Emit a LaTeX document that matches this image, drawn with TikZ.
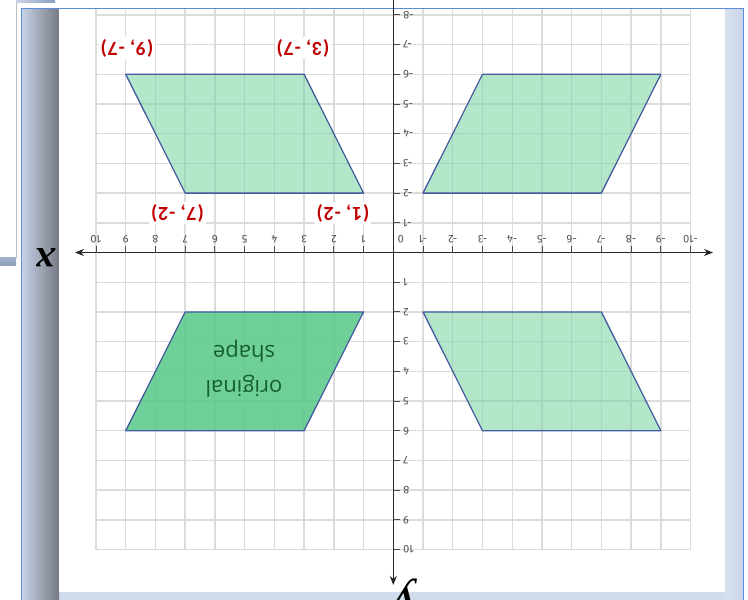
\documentclass[tikz,border=0pt]{standalone}
\usepackage{fontspec}
\setmainfont{Liberation Serif}
\newfontfamily\lblfont[LetterSpace=4]{Carlito}
\newfontfamily\shapefont{Open Sans}
\newfontfamily\tickfont{Fira Sans}
\usetikzlibrary{arrows.meta}
\definecolor{gridgray}{RGB}{220,220,220}
\definecolor{edgeblue}{RGB}{68,92,160}
\definecolor{lightgreen}{RGB}{120,210,160}
\definecolor{darkgreen}{RGB}{85,200,135}
\definecolor{labelred}{RGB}{192,0,0}
\definecolor{frameblue}{RGB}{90,140,215}
\definecolor{stripblue}{RGB}{200,212,232}
\definecolor{stripgray}{RGB}{118,122,132}
\definecolor{barblue}{RGB}{140,158,190}
\definecolor{textgreen}{RGB}{22,95,48}
\definecolor{tickgray}{RGB}{80,80,80}
\newcommand\gx[1]{393.3-29.73*(#1)}
\newcommand\gy[1]{252.5+29.7*(#1)}
\tikzset{
  gridline/.style={draw=gridgray, line width=1.4pt},
  axisline/.style={draw=black!85, line width=1.4pt},
  tickmark/.style={draw=black!70, line width=0.9pt},
  ticklabel/.style={font=\tickfont\fontsize{11}{11}\selectfont, text=tickgray, rotate=180, inner sep=0pt},
  imgshape/.style={draw=edgeblue, line width=1.3pt, line join=round, fill=lightgreen, fill opacity=0.55},
  origshape/.style={draw=edgeblue, line width=1.3pt, line join=round, fill=darkgreen, fill opacity=0.85},
  ptlabel/.style={font=\lblfont\bfseries\fontsize{20}{20}\selectfont, text=labelred, rotate=180, fill=white, inner sep=2pt},
  axislabel/.style={font=\bfseries\itshape\fontsize{40}{40}\selectfont, text=black, rotate=180, inner sep=0pt},
}
\begin{document}
\begin{tikzpicture}[x=1pt,y=-1pt]
\useasboundingbox (0,0) rectangle (748,600);
\clip (0,0) rectangle (748,600);
\fill[white] (0,0) rectangle (748,600);
% outer window pieces
\draw[black!25, line width=0.8pt] (16,0) -- (16,258);
\shade[top color=barblue!80, bottom color=barblue] (0,257) rectangle (16,265);
\shade[left color=stripblue, right color=barblue] (16,0) rectangle (55,2.8);
% panel frame
\fill[stripblue!85] (21,8.7) rectangle (743,605);
\shade[left color=stripblue, right color=stripgray] (21,8.7) rectangle (59,605);
\shade[left color=stripblue!70, right color=stripblue] (725,8.7) rectangle (743,605);
\draw[frameblue, line width=1pt] (21,605) -- (21,8.7) -- (743,8.7) -- (743,605);
\fill[white] (59,9.3) rectangle (725,592);
% grid
\foreach \i in {-10,...,10} \draw[gridline] ({\gx{\i}},9.3) -- ({\gx{\i}},{\gy{10}});
\foreach \j in {-8,...,10} \draw[gridline] ({\gx{10}},{\gy{\j}}) -- ({\gx{-10}},{\gy{\j}});
% shapes
\coordinate (a1) at ({\gx{9}},{\gy{-6}});
\coordinate (a2) at ({\gx{3}},{\gy{-6}});
\coordinate (a3) at ({\gx{1}},{\gy{-2}});
\coordinate (a4) at ({\gx{7}},{\gy{-2}});
\coordinate (b1) at ({\gx{-3}},{\gy{-6}});
\coordinate (b2) at ({\gx{-9}},{\gy{-6}});
\coordinate (b3) at ({\gx{-7}},{\gy{-2}});
\coordinate (b4) at ({\gx{-1}},{\gy{-2}});
\coordinate (c1) at ({\gx{-1}},{\gy{2}});
\coordinate (c2) at ({\gx{-7}},{\gy{2}});
\coordinate (c3) at ({\gx{-9}},{\gy{6}});
\coordinate (c4) at ({\gx{-3}},{\gy{6}});
\coordinate (d1) at ({\gx{7}},{\gy{2}});
\coordinate (d2) at ({\gx{1}},{\gy{2}});
\coordinate (d3) at ({\gx{3}},{\gy{6}});
\coordinate (d4) at ({\gx{9}},{\gy{6}});
\path[imgshape] (a1) -- (a2) -- (a3) -- (a4) -- cycle;
\path[imgshape] (b1) -- (b2) -- (b3) -- (b4) -- cycle;
\path[imgshape] (c1) -- (c2) -- (c3) -- (c4) -- cycle;
\path[origshape] (d1) -- (d2) -- (d3) -- (d4) -- cycle;
\node[font=\shapefont\fontsize{22}{35}\selectfont, text=textgreen, rotate=180, align=center, inner sep=0pt] (orig) at (244,369) {original\\shape};
% axes
\coordinate (xl) at (75,{\gy{0}});
\coordinate (xr) at (713,{\gy{0}});
\coordinate (yt) at ({\gx{0}},0);
\coordinate (yb) at ({\gx{0}},585);
\draw[axisline, {Stealth[length=9pt,width=7pt]}-{Stealth[length=9pt,width=7pt]}] (xl) -- (xr);
\draw[axisline, -{Stealth[length=9pt,width=7pt]}] (yt) -- (yb);
\foreach \i in {-10,...,-1,1,2,...,10} {
  \draw[tickmark] ({\gx{\i}},{\gy{0}}) -- ({\gx{\i}},{\gy{0}-7});
  \node[ticklabel] (xt\i) at ({\gx{\i}},239) {\i};
}
\node[ticklabel] (xt0) at (400.7,239) {0};
\foreach \j in {-8,...,-1,1,2,...,10} {
  \draw[tickmark] ({\gx{0}},{\gy{\j}}) -- ({\gx{0}+7},{\gy{\j}});
  \node[ticklabel, anchor=east] (yt\j) at (403,{\gy{\j}}) {\j};
}
% labels
\node[ptlabel] (p1) at (127,48) {(9, -7)};
\node[ptlabel] (p2) at (303,48) {(3, -7)};
\node[ptlabel] (p3) at (177.5,213) {(7, -2)};
\node[ptlabel] (p4) at (343,213) {(1, -2)};
\node[axislabel] (xlab) at (46,258) {x};
\node[axislabel] (ylab) at (405,592) {y};
\end{tikzpicture}
\end{document}
